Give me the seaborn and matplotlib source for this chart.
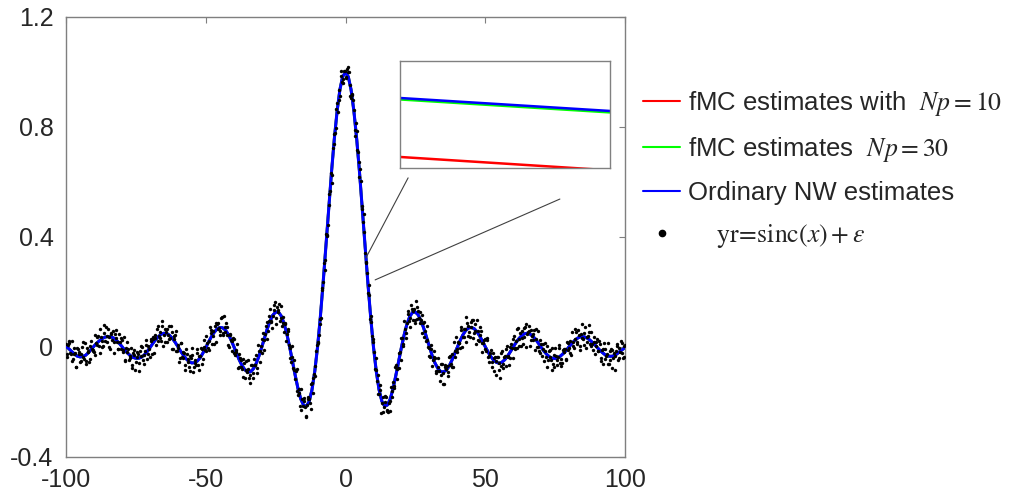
import numpy as np
import pandas as pd
import matplotlib
matplotlib.use("Agg")
import matplotlib.pyplot as plt
from matplotlib.lines import Line2D
import seaborn as sns

# ---------------- data ----------------
x_curve = np.arange(-100, 101, 1)
y_nw_neg = [0.002, -0.006, -0.016, -0.025, -0.033, -0.036, -0.035, -0.030, -0.021, -0.009,
            0.003, 0.014, 0.023, 0.031, 0.036, 0.038, 0.037, 0.033, 0.025, 0.014,
            0.002, -0.011, -0.022, -0.031, -0.038, -0.041, -0.041, -0.037, -0.029, -0.017,
            -0.003, 0.012, 0.026, 0.037, 0.046, 0.050, 0.049, 0.043, 0.032, 0.018,
            0.002, -0.015, -0.030, -0.043, -0.053, -0.058, -0.057, -0.051, -0.039, -0.022,
            -0.002, 0.018, 0.037, 0.053, 0.065, 0.071, 0.070, 0.062, 0.047, 0.027,
            0.003, -0.023, -0.047, -0.068, -0.083, -0.091, -0.090, -0.080, -0.061, -0.034,
            -0.002, 0.032, 0.066, 0.094, 0.116, 0.127, 0.127, 0.113, 0.086, 0.048,
            0.001, -0.051, -0.103, -0.151, -0.189, -0.212, -0.216, -0.198, -0.156, -0.089,
            0.000, 0.109, 0.234, 0.368, 0.505, 0.637, 0.757, 0.858, 0.936, 0.984]
y_nw_pos = [0.998, 0.983, 0.935, 0.858, 0.757, 0.637, 0.505, 0.368, 0.234, 0.109,
            0.001, -0.088, -0.155, -0.197, -0.215, -0.211, -0.189, -0.152, -0.104, -0.053,
            -0.002, 0.045, 0.084, 0.111, 0.126, 0.127, 0.117, 0.096, 0.068, 0.035,
            0.001, -0.031, -0.058, -0.077, -0.089, -0.091, -0.085, -0.071, -0.050, -0.026,
            -0.001, 0.023, 0.044, 0.060, 0.069, 0.071, 0.067, 0.056, 0.040, 0.021,
            0.001, -0.018, -0.035, -0.048, -0.056, -0.059, -0.055, -0.046, -0.033, -0.017,
            0.000, 0.016, 0.030, 0.041, 0.048, 0.050, 0.047, 0.039, 0.028, 0.014,
            -0.001, -0.015, -0.027, -0.036, -0.041, -0.042, -0.039, -0.032, -0.023, -0.012,
            0.001, 0.013, 0.024, 0.032, 0.037, 0.038, 0.035, 0.029, 0.020, 0.010,
            -0.001, -0.012, -0.021, -0.029, -0.033, -0.034, -0.032, -0.026, -0.018, -0.010, -0.002]
y_nw = y_nw_neg + y_nw_pos          # Ordinary NW estimates
y_fmc10 = y_nw                      # fMC Np=10 (coincides at this scale)
y_fmc30 = y_nw                      # fMC Np=30 (coincides at this scale)

# noisy samples yr = sinc(x) + eps, first set (x = -100 ... 100 step 0.5)
x_dots_a = np.arange(-100, 100.5, 0.5)
y_dots_a = [
    0.012, -0.036, 0.015, -0.023, 0.021, -0.042, -0.024, -0.073, -0.004, -0.018,
    -0.056, -0.026, 0.019, -0.044, -0.063, -0.005, -0.018, -0.043, 0.022, -0.011,
    -0.018, 0.043, 0.008, 0.040, -0.020, 0.036, 0.001, 0.079, 0.023, 0.041,
    0.067, 0.000, 0.052, 0.025, -0.021, 0.048, 0.031, -0.006, 0.047, -0.009,
    0.027, -0.011, -0.046, -0.005, 0.020, -0.049, -0.032, -0.075, -0.022, -0.010,
    -0.053, -0.036, -0.087, -0.016, 0.004, -0.048, -0.028, 0.009, -0.042, 0.002,
    -0.036, 0.021, 0.036, -0.022, 0.032, 0.067, 0.022, 0.053, 0.021, 0.096,
    0.042, 0.019, 0.067, 0.045, 0.028, 0.078, -0.009, 0.040, 0.042, -0.013,
    0.008, -0.055, 0.015, -0.035, -0.017, -0.065, -0.007, -0.054, -0.073, -0.033,
    -0.003, -0.092, -0.047, -0.065, -0.021, -0.083, -0.033, -0.009, -0.042, 0.026,
    -0.014, 0.015, -0.011, 0.071, 0.051, 0.039, 0.010, 0.087, 0.083, 0.067,
    0.042, 0.105, 0.051, 0.112, 0.054, 0.074, 0.009, 0.045, 0.025, -0.013,
    0.030, -0.029, -0.018, -0.077, -0.026, -0.046, -0.079, -0.043, -0.111, -0.084,
    -0.048, -0.112, -0.100, -0.067, -0.111, -0.064, -0.030, -0.094, -0.016, -0.014,
    -0.020, 0.050, 0.027, 0.076, 0.030, 0.093, 0.140, 0.092, 0.113, 0.151,
    0.085, 0.147, 0.134, 0.095, 0.149, 0.088, 0.054, 0.089, 0.047, 0.064,
    -0.005, -0.054, -0.035, -0.047, -0.117, -0.079, -0.176, -0.166, -0.228, -0.188,
    -0.185, -0.217, -0.251, -0.190, -0.189, -0.226, -0.132, -0.112, -0.107, -0.013,
    0.016, 0.043, 0.082, 0.208, 0.237, 0.280, 0.412, 0.405, 0.516, 0.566,
    0.596, 0.724, 0.775, 0.795, 0.888, 0.897, 0.913, 1.002, 0.973, 1.003,
    0.978, 1.010, 1.020, 0.954, 0.906, 0.921, 0.863, 0.767, 0.784, 0.709,
    0.620, 0.604, 0.501, 0.482, 0.343, 0.308, 0.196, 0.189, 0.111, 0.040, 0.029,
    -0.080, -0.083, -0.101, -0.171, -0.139, -0.205, -0.238, -0.199, -0.181, -0.232,
    -0.202, -0.234, -0.159, -0.126, -0.140, -0.066, -0.080, -0.076, -0.017, 0.031,
    0.010, 0.094, 0.031, 0.089, 0.120, 0.104, 0.151, 0.099, 0.140, 0.087,
    0.146, 0.131, 0.088, 0.098, 0.116, 0.036, 0.058, 0.076, 0.001, -0.005,
    0.009, -0.069, -0.035, -0.041, -0.093, -0.039, -0.086, -0.101, -0.063, -0.135,
    -0.072, -0.079, -0.107, -0.037, -0.066, -0.027, -0.072, -0.015, 0.035, -0.018,
    0.014, -0.002, 0.072, 0.035, 0.066, 0.018, 0.089, 0.077, 0.038, 0.090,
    0.099, 0.051, 0.058, 0.099, 0.026, 0.045, 0.057, -0.018, 0.024, -0.007,
    0.025, -0.038, -0.032, -0.010, -0.074, -0.040, -0.036, -0.103, -0.037, -0.058,
    -0.069, -0.014, -0.075, -0.034, -0.007, -0.038, -0.064, 0.001, -0.005, 0.028,
    -0.008, 0.023, 0.066, 0.002, 0.051, 0.032, 0.011, 0.070, 0.085, 0.047,
    0.060, 0.005, 0.062, 0.025, 0.062, 0.029, -0.001, 0.060, -0.023, 0.010,
    0.012, -0.051, -0.015, 0.005, -0.049, -0.010, -0.047, -0.084, -0.028, -0.004,
    -0.065, -0.038, -0.004, -0.044, -0.058, -0.007, -0.009, -0.049, 0.016, -0.004,
    -0.021, 0.053, 0.005, 0.029, 0.055, 0.011, 0.045, 0.004, 0.082, 0.030,
    0.052, -0.004, 0.036, 0.054, 0.011, 0.056, -0.010, 0.019, 0.005, 0.030,
    -0.014, 0.010, -0.050, -0.007, 0.015, -0.045, -0.026, -0.060, -0.015, -0.007,
    -0.075, -0.022, -0.034, 0.005, -0.046, -0.004, 0.022, -0.022, -0.036, 0.006,
]
# second set (x = -99.75 ... 99.75 step 0.5)
x_dots_b = np.arange(-99.75, 100, 0.5)
y_dots_b = [
    -0.025, 0.006, 0.023, -0.026, -0.051, -0.004, -0.023, -0.074, -0.006, -0.024,
    -0.051, -0.001, -0.035, 0.016, -0.051, -0.014, -0.056, 0.005, -0.006, -0.015,
    -0.030, 0.015, 0.038, 0.004, 0.065, 0.021, 0.004, 0.051, 0.071, 0.017,
    0.038, -0.008, 0.048, 0.059, 0.018, 0.063, 0.019, -0.009, 0.018, 0.034,
    -0.017, 0.037, -0.052, -0.017, -0.007, -0.039, -0.005, -0.066, -0.029, -0.082,
    -0.019, -0.027, -0.059, -0.034, 0.001, -0.060, -0.016, 0.025, -0.027, -0.009,
    0.029, -0.026, 0.029, 0.043, 0.008, 0.075, 0.039, 0.032, 0.075, 0.005,
    0.065, 0.053, 0.017, 0.076, 0.033, 0.055, -0.008, 0.030, 0.060, -0.014,
    -0.002, -0.039, 0.016, -0.039, -0.023, -0.084, -0.024, -0.044, -0.089, -0.039,
    -0.028, -0.072, -0.058, -0.007, -0.067, -0.034, -0.005, -0.062, -0.001, -0.012,
    0.040, -0.004, 0.021, 0.061, 0.012, 0.060, 0.075, 0.017, 0.089, 0.070,
    0.059, 0.110, 0.042, 0.074, 0.089, 0.043, 0.001, 0.048, 0.021, 0.034,
    -0.023, -0.012, 0.012, -0.071, -0.040, -0.074, -0.108, -0.058, -0.050, -0.092,
    -0.079, -0.131, -0.067, -0.095, -0.045, -0.064, -0.075, 0.007, -0.054, 0.002,
    0.028, -0.011, 0.048, 0.090, 0.057, 0.114, 0.093, 0.069, 0.134, 0.163,
    0.104, 0.129, 0.157, 0.106, 0.077, 0.110, 0.085, 0.021, 0.058, 0.008,
    -0.040, 0.002, -0.078, -0.085, -0.089, -0.161, -0.151, -0.213, -0.151, -0.215,
    -0.198, -0.255, -0.210, -0.180, -0.204, -0.133, -0.167, -0.099, -0.069, 0.006,
    0.017, 0.102, 0.106, 0.215, 0.306, 0.317, 0.407, 0.443, 0.557, 0.632,
    0.626, 0.738, 0.779, 0.866, 0.856, 0.933, 0.987, 0.962, 0.959, 1.004,
    0.982, 0.999, 1.001, 0.912, 0.915, 0.899, 0.790, 0.816, 0.717, 0.674,
    0.646, 0.514, 0.453, 0.418, 0.304, 0.270, 0.225, 0.101, 0.092, 0.019,
    -0.019, -0.040, -0.124, -0.172, -0.155, -0.239, -0.180, -0.219, -0.177, -0.229,
    -0.235, -0.195, -0.146, -0.182, -0.150, -0.071, -0.115, -0.078, -0.021, -0.047,
    0.032, 0.003, 0.064, 0.051, 0.130, 0.095, 0.072, 0.139, 0.130, 0.100,
    0.167, 0.101, 0.104, 0.127, 0.052, 0.087, 0.090, 0.021, 0.026, -0.031,
    -0.038, -0.008, -0.046, -0.013, -0.088, -0.088, -0.073, -0.122, -0.063, -0.095,
    -0.133, -0.065, -0.070, -0.092, -0.032, -0.061, -0.072, 0.017, -0.035, -0.009,
    0.020, 0.013, 0.061, -0.001, 0.037, 0.065, 0.108, 0.041, 0.053, 0.073,
    0.099, 0.034, 0.082, 0.011, 0.057, 0.022, 0.071, 0.015, 0.014, 0.030,
    -0.013, 0.032, -0.056, -0.022, -0.055, -0.020, -0.089, -0.051, -0.038, -0.082,
    -0.113, -0.022, -0.061, -0.036, -0.070, 0.004, -0.032, -0.040, 0.010, -0.040,
    0.040, -0.002, -0.002, 0.070, 0.029, 0.005, 0.059, 0.035, 0.073, 0.001,
    0.056, 0.077, 0.024, 0.040, 0.049, -0.011, 0.064, 0.001, -0.015, 0.025,
    -0.031, -0.006, 0.016, -0.036, -0.073, -0.013, -0.038, -0.002, -0.060, -0.073,
    -0.031, -0.047, 0.007, -0.058, -0.070, -0.010, -0.019, -0.045, 0.018, -0.012,
    0.021, -0.028, 0.018, -0.003, 0.066, 0.019, 0.062, -0.011, 0.049, 0.032,
    0.007, 0.073, 0.018, 0.041, 0.080, 0.003, 0.011, 0.038, -0.026, 0.018,
    -0.015, 0.023, -0.039, -0.010, -0.062, -0.007, -0.032, 0.013, -0.061, -0.049,
    -0.012, -0.040, -0.082, -0.014, 0.010, -0.040, -0.019, 0.014, -0.041, 0.003,
]

# zoomed (inset) view of the three estimates
inset_x = [7.40, 7.41]
inset_nw = [0.31360, 0.31226]
inset_fmc30 = [0.31345, 0.31211]
inset_fmc10 = [0.30751, 0.30613]
inset_xlim = (7.40, 7.41)
inset_ylim = (0.30637, 0.31742)

x_ticks = [-100, -50, 0, 50, 100]
y_ticks = [-0.4, 0, 0.4, 0.8, 1.2]
y_ticklabels = ["-0.4", "0", "0.4", "0.8", "1.2"]

labels = ["fMC estimates with  $Np=10$",
          "fMC estimates  $Np=30$",
          "Ordinary NW estimates",
          r"    $\mathrm{yr\!=\!sinc}(x)+\varepsilon$"]

# ---------------- style ----------------
sns.set_style("white")
plt.rcParams["font.family"] = ["Liberation Sans", "DejaVu Sans"]
plt.rcParams["mathtext.fontset"] = "stix"
plt.rcParams["axes.unicode_minus"] = False

W, H = 1031, 495
fig = plt.figure(figsize=(W / 100, H / 100), dpi=100)
ax = fig.add_axes([66 / W, 1 - 457 / H, 559 / W, 440 / H])

df_line = pd.DataFrame({"x": x_curve, "nw": y_nw, "f10": y_fmc10, "f30": y_fmc30})
df_dots = pd.DataFrame({"x": np.concatenate([x_dots_a, x_dots_b]),
                        "y": y_dots_a + y_dots_b})

sns.lineplot(data=df_line, x="x", y="f10", ax=ax, color="#ff0000", linewidth=2.0, zorder=2)
sns.lineplot(data=df_line, x="x", y="f30", ax=ax, color="#00ff00", linewidth=2.0, zorder=3)
sns.lineplot(data=df_line, x="x", y="nw", ax=ax, color="#0000ff", linewidth=2.2, zorder=4)
sns.scatterplot(data=df_dots, x="x", y="y", ax=ax, color="black", s=6, linewidth=0, zorder=5)

ax.set_xlim(-100, 100)
ax.set_ylim(-0.4, 1.2)
ax.set_xticks(x_ticks)
ax.set_yticks(y_ticks)
ax.set_yticklabels(y_ticklabels)
ax.set_xlabel("")
ax.set_ylabel("")
for s in ax.spines.values():
    s.set_color("#7f7f7f")
    s.set_linewidth(1.0)
ax.tick_params(direction="in", length=4, width=0.8, color="#7f7f7f",
               labelsize=18, labelcolor="#262626", top=True, right=True,
               labeltop=False, labelright=False)
ax.tick_params(axis="x", pad=8)
ax.tick_params(axis="y", pad=9)

# connector lines to the inset
gray = "#404040"
ax.plot([22.4, 7.3], [0.615, 0.324], color=gray, linewidth=0.8, zorder=6)
ax.plot([76.7, 10.6], [0.538, 0.244], color=gray, linewidth=0.8, zorder=6)

# inset
axi = fig.add_axes([400 / W, 1 - 168 / H, 210 / W, 107 / H])
df_in = pd.DataFrame({"x": inset_x, "nw": inset_nw, "f30": inset_fmc30, "f10": inset_fmc10})
sns.lineplot(data=df_in, x="x", y="f10", ax=axi, color="#ff0000", linewidth=1.8)
sns.lineplot(data=df_in, x="x", y="f30", ax=axi, color="#00ff00", linewidth=1.8)
sns.lineplot(data=df_in, x="x", y="nw", ax=axi, color="#0000ff", linewidth=1.8)
axi.set_xlim(*inset_xlim)
axi.set_ylim(*inset_ylim)
axi.set_xticks([])
axi.set_yticks([])
axi.set_xlabel("")
axi.set_ylabel("")
for s in axi.spines.values():
    s.set_color("#808080")
    s.set_linewidth(1.0)

# legend
handles = [Line2D([], [], color="#ff0000", linewidth=1.5),
           Line2D([], [], color="#00ff00", linewidth=1.5),
           Line2D([], [], color="#0000ff", linewidth=1.5),
           Line2D([], [], color="black", linestyle="none", marker="o", markersize=4.5)]
fig.legend(handles, labels, loc="upper left", bbox_to_anchor=(643 / W, 1 - 89 / H),
           frameon=False, fontsize=18.5, borderpad=0, borderaxespad=0,
           handlelength=1.45, handletextpad=0.31, labelspacing=0.66)

fig.savefig("out.png", dpi=100)
